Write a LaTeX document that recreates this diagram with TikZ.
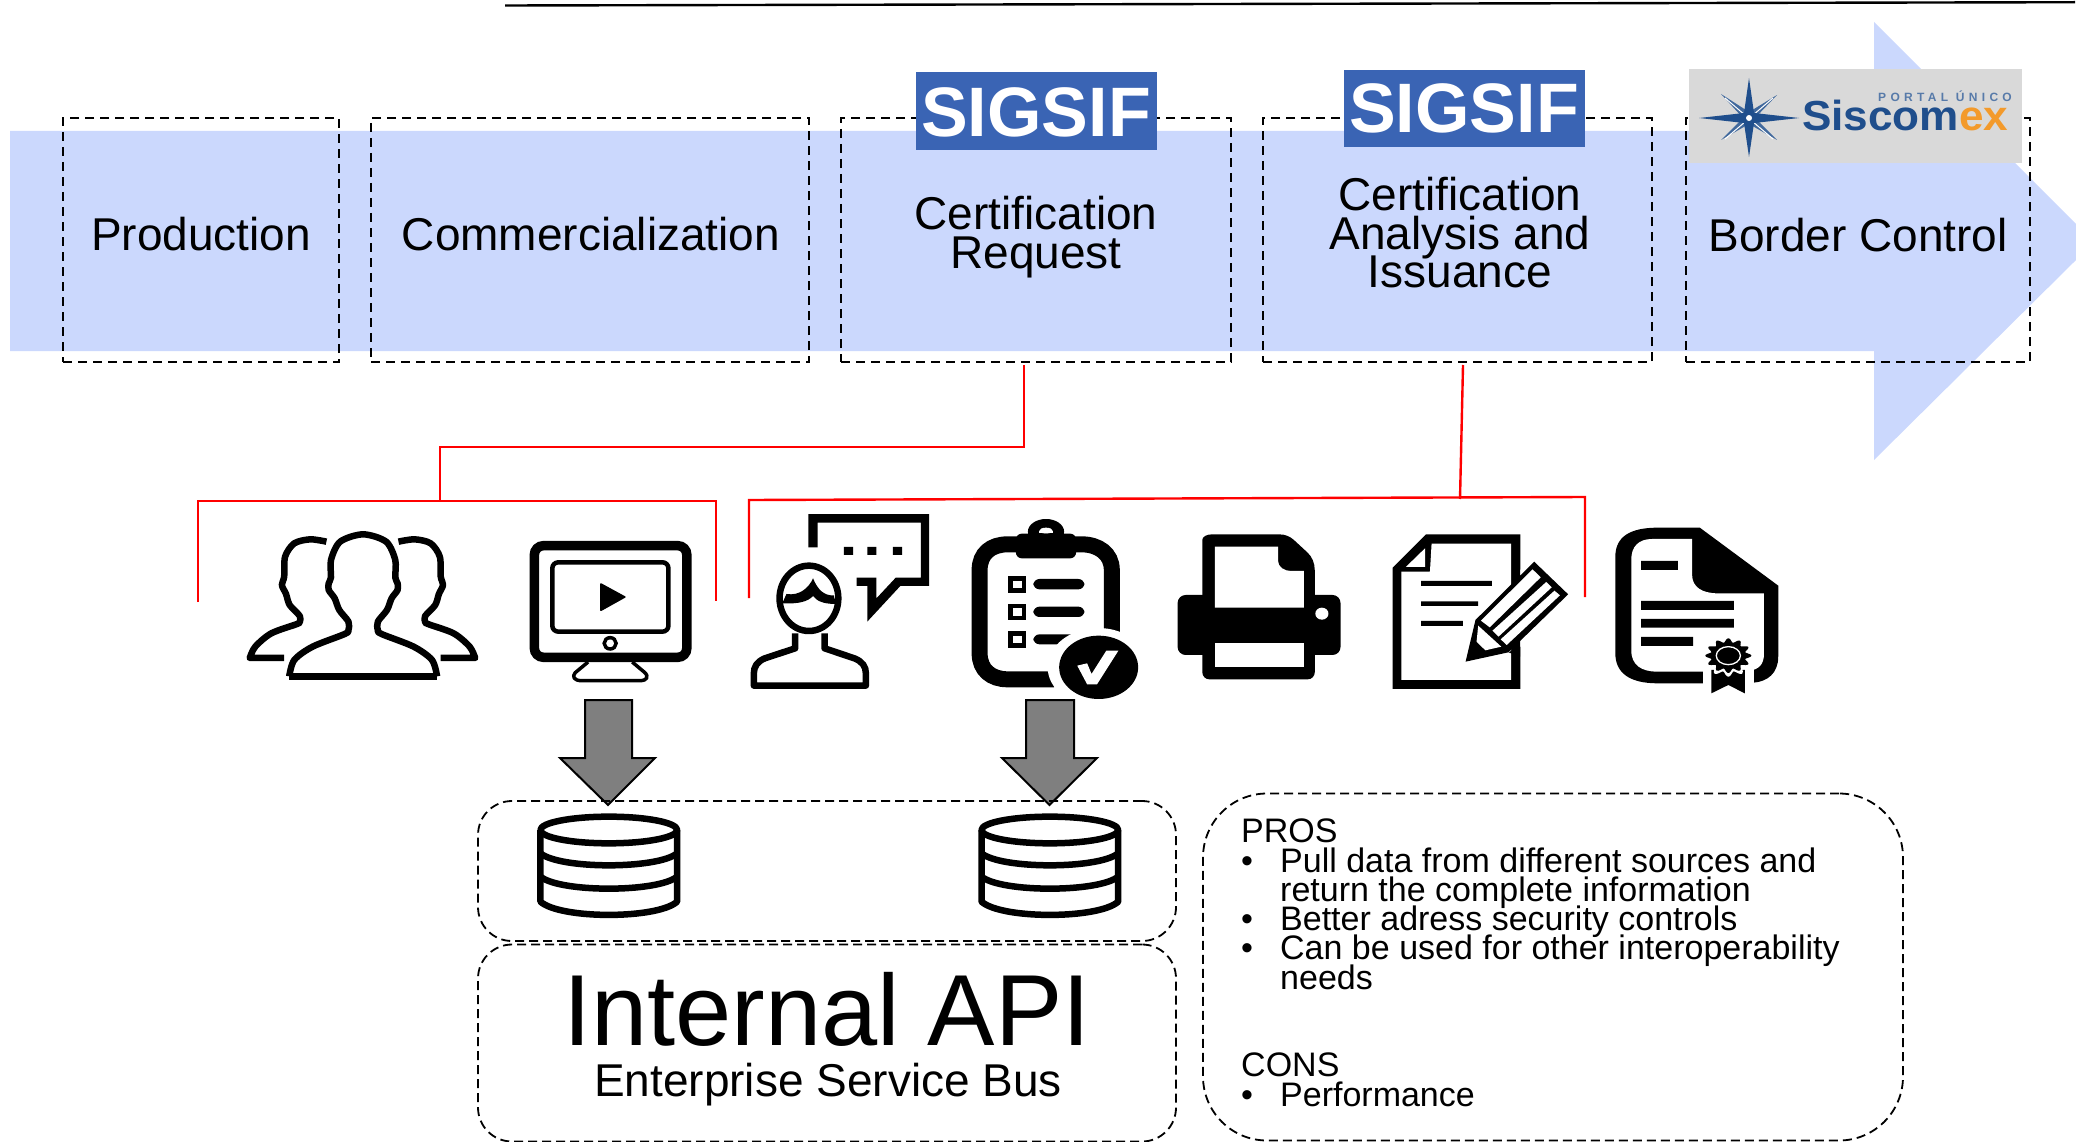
\documentclass[tikz,border=0pt]{standalone}
\usepackage{fontspec}
\usepackage{graphicx}
\setmainfont{Liberation Sans}
\lineskiplimit=-1000pt
\lineskip=0pt
\definecolor{flow}{HTML}{CBD8FD}
\definecolor{sigblue}{HTML}{3A64B4}
\definecolor{logogray}{HTML}{D9D9D9}
\definecolor{logoblue}{HTML}{1F4E8C}
\definecolor{logoorange}{HTML}{F39A2B}
\definecolor{arrowgray}{HTML}{7F7F7F}
\tikzset{
  dashbox/.style={draw=black,line width=2pt,dash pattern=on 9pt off 6pt,inner sep=0pt,rectangle},
  roundbox/.style={draw=black,line width=1.8pt,dash pattern=on 9pt off 5pt,inner sep=0pt,rectangle,fill=none},
  lbl/.style={font=\fontsize{46}{38.5}\selectfont,inner sep=0pt,anchor=base,align=center,text=black},
  sigbox/.style={text=white,font=\fontsize{70}{70}\selectfont\bfseries,inner sep=0pt,anchor=base},
  wire/.style={draw=red,line width=2.4pt,line join=miter},
  icon/.style={draw=black,line width=6.5pt,line join=round,fill=none},
  zoomA/.style={shift={(230,490)},xscale=0.4591,yscale=0.3333},
  zoomB/.style={shift={(950,490)},xscale=0.5485,yscale=0.3333},
  zoomC/.style={shift={(460,690)},xscale=0.4847,yscale=0.3333},
  downarrow/.style={fill=arrowgray,draw=black,line width=2pt,line join=miter},
}
\begin{document}
\begin{tikzpicture}[x=1pt,y=-1pt]
\useasboundingbox (0,0) rectangle (2076,1142);
% top rule
\coordinate (ruleL) at (505,5.5);
\coordinate (ruleR) at (2075,2.2);
\draw[black,line width=2.4pt] (ruleL) -- (ruleR);
% big flow arrow
\fill[flow] (10,131) -- (1874,131) -- (1874,22) -- (2076,224) -- (2076,260) -- (1874,460) -- (1874,351) -- (10,351) -- cycle;
% stage boxes
\node[dashbox,minimum width=276pt,minimum height=244pt] (prod) at (201,240) {};
\node[dashbox,minimum width=438pt,minimum height=244pt] (comm) at (590,240) {};
\node[dashbox,minimum width=390pt,minimum height=244pt] (creq) at (1036,240) {};
\node[dashbox,minimum width=389pt,minimum height=244pt] (cana) at (1457.5,240) {};
\node[dashbox,minimum width=344pt,minimum height=244pt] (bord) at (1858,240) {};
% labels
\node[lbl] (tprod) at (201,250) {Production};
\node[lbl] (tcomm) at (591,250) {Commercialization};
\node[lbl] (tcreq) at (1036,268) {Certification\\Request};
\node[lbl] (tcana) at (1460,287.5) {Certification\\Analysis and\\Issuance};
\node[lbl] (tbord) at (1858,251) {Border Control};
% SIGSIF
\fill[sigblue] (916,72) rectangle (1157,150);
\node[sigbox] (sig1) at (1036,137) {SIGSIF};
\fill[sigblue] (1344,70) rectangle (1585,147);
\node[sigbox] (sig2) at (1464,133) {SIGSIF};
% Siscomex logo
\fill[logogray] (1689,69) rectangle (2022,163);
\fill[logoblue!85] (1721,94) -- (1749,112) -- (1777,95) -- (1755,118) -- (1777,140) -- (1749,124) -- (1721,140) -- (1743,118) -- cycle;
\draw[white,line width=1pt] (1725,98) -- (1773,139) (1773,98) -- (1725,139);
\fill[logoblue] (1749,78) -- (1754,113) -- (1799,118) -- (1754,123) -- (1749,157) -- (1744,123) -- (1699,118) -- (1744,113) -- cycle;
\fill[white] (1749,118) circle (3pt);
\node[font=\fontsize{42}{42}\selectfont\bfseries,inner sep=0pt,anchor=base west] (siscomex) at (1802,131)
  {\scalebox{1.05}[1]{\textcolor{logoblue}{Siscom}\textcolor{logoorange}{ex}}};
\node[font=\fontsize{12}{12}\selectfont\bfseries,inner sep=0pt,anchor=base east,text=logoblue!75] (portal) at (2012,102)
  {\addfontfeature{LetterSpace=36}PORTAL ÚNICO};
% red connectors
\coordinate (ra0) at (1024,365);
\coordinate (ra1) at (1024,447);
\coordinate (ra2) at (440,447);
\coordinate (ra3) at (440,501);
\coordinate (ba) at (198,602);
\coordinate (bb) at (198,501);
\coordinate (bc) at (716,501);
\coordinate (bd) at (716,601);
\draw[wire] (ra0) -- (ra1) -- (ra2) -- (ra3);
\draw[wire] (ba) -- (bb) -- (bc) -- (bd);
\coordinate (rb0) at (1463,365);
\coordinate (rb1) at (1460,499);
\coordinate (ca) at (749,598);
\coordinate (cb) at (749,500);
\coordinate (cc) at (1585,497);
\coordinate (cd) at (1585,597);
\draw[wire] (rb0) -- (rb1);
\draw[wire] (ca) -- (cb) -- (cc) -- (cd);
% people icon
\begin{scope}[zoomA]
\draw[icon] plot[smooth,tension=.5] coordinates {(210,155) (175,148) (140,160) (120,200) (118,260) (113,285) (122,312) (130,345) (152,378) (152,395) (146,402) (90,430) (55,470) (43,504)} -- (118,504);
\draw[icon] plot[smooth,tension=.5] coordinates {(367,155) (402,148) (437,160) (457,200) (459,260) (464,285) (455,312) (447,345) (425,378) (425,395) (431,402) (487,430) (522,470) (534,504)} -- (459,504);
\draw[icon] (129,559) -- (451,559);
\draw[icon] plot[smooth,tension=.5] coordinates {(129,559) (140,510) (180,470) (250,432) (258,420) (258,395) (238,360) (228,325) (215,300) (215,280) (220,262) (220,210) (240,155) (290,133) (340,155) (360,210) (360,262) (365,280) (365,300) (352,325) (342,360) (322,395) (322,420) (330,432) (400,470) (440,510) (451,559)};
% monitor
\draw[black,line width=9.5pt,rounded corners=9pt,fill=white] (663,167) rectangle (995,502);
\draw[black,line width=4.5pt,rounded corners=6pt] (702,217) rectangle (955,425);
\fill[black,draw=black,line width=1.5pt,line join=round] (808,282) -- (860,321) -- (808,361) -- cycle;
\draw[black,line width=3.5pt] (828,460) ellipse [x radius=13,y radius=17];
\draw[black,line width=3.5pt,line join=round] (780,516) -- (752,548) .. controls (744,560) and (750,572) .. (765,572) -- (893,572) .. controls (908,572) and (914,560) .. (902,546) -- (876,516);
% person with speech bubble
\fill[black] (1260,72) -- (1523,72) -- (1523,288) -- (1460,288) -- (1388,395) -- (1388,288) -- (1365,288) -- (1365,263) -- (1408,263) -- (1408,325) -- (1450,263) -- (1505,263) -- (1505,98) -- (1280,98) -- (1280,172) -- (1260,172) -- cycle;
\fill[black] (1337,171) rectangle (1357,195) (1388,171) rectangle (1408,195) (1444,171) rectangle (1464,195);
\draw[icon] (1261,325) ellipse [x radius=64,y radius=98];
\fill[black] (1212,312) .. controls (1240,318) and (1260,295) .. (1270,265) .. controls (1280,300) and (1295,318) .. (1315,316) -- (1320,342) .. controls (1290,342) and (1278,332) .. (1270,318) .. controls (1258,335) and (1240,342) .. (1203,340) -- cycle;
\draw[icon] (1231,430) -- (1231,475) -- (1165,505) .. controls (1148,515) and (1141,530) .. (1141,550) -- (1141,587) -- (1385,587) -- (1385,550) .. controls (1385,530) and (1378,515) .. (1360,505) -- (1295,475) -- (1295,430);
\end{scope}
% clipboard
\begin{scope}[zoomB]
\draw[black,line width=16pt,line cap=butt] (295,430) -- (295,240) .. controls (295,190) and (270,163) .. (240,163) -- (105,163) .. controls (75,163) and (54,190) .. (54,240) -- (54,490) .. controls (54,540) and (75,568) .. (105,568) -- (190,568);
\fill[black] (175,125) ellipse [x radius=33,y radius=38];
\fill[white] (175,122) ellipse [x radius=12,y radius=9];
\fill[black,rounded corners=6pt] (120,131) rectangle (230,205);
\fill[white] (163,122) rectangle (187,130);
\foreach \yy in {258,341,423}{
  \draw[black,line width=4.5pt] (110,\yy+7) rectangle (135,\yy+43);
}
\fill[black,rounded corners=6pt] (152,267) rectangle (245,298);
\fill[black,rounded corners=6pt] (152,350) rectangle (245,381);
\fill[black,rounded corners=6pt] (152,433) rectangle (232,463);
\fill[white] (270,532) ellipse [x radius=92,y radius=118];
\fill[black] (271,532) ellipse [x radius=72,y radius=95];
\fill[white] (232,527) -- (250,520) -- (258,552) -- (285,482) -- (307,482) -- (268,583) -- (250,583) -- cycle;
% printer
\fill[black,rounded corners=8pt] (415,315) rectangle (712,495);
\fill[black,rounded corners=7pt] (460,458) rectangle (665,568);
\fill[black] (460,320) -- (460,150) .. controls (460,140) and (468,133) .. (478,133) -- (600,133) .. controls (612,133) and (620,140) .. (627,150) -- (652,188) .. controls (660,200) and (665,220) .. (665,240) -- (665,320) -- cycle;
\fill[white] (483,170) -- (598,170) -- (598,212) .. controls (598,232) and (610,243) .. (622,243) -- (645,243) -- (645,353) -- (483,353) -- cycle;
\fill[white] (483,458) rectangle (645,531);
\fill[white] (678,371) ellipse [x radius=12,y radius=18];
% document with pencil
\fill[black] (868,133) -- (1040,133) -- (1040,597) -- (807,597) -- (807,233) -- cycle;
\fill[white] (878,161) -- (1023,161) -- (1023,570) -- (823,570) -- (823,245) -- (875,245) -- cycle;
\fill[white] (866,175) -- (866,231) -- (831,231) -- cycle;
\fill[black] (859,273) rectangle (988,288) (859,334) rectangle (963,348) (859,393) rectangle (935,408);
\fill[white] (1040,240) -- (1060,195) -- (1145,313) -- (1040,500) -- cycle;
\fill[black] (1065,215) -- (1127,313) -- (1018,487) -- (940,515) -- (958,390) -- cycle;
\fill[white] (1062,238) -- (1077,262) -- (984,412) -- (968,392) -- cycle;
\fill[white] (1087,276) -- (1097,292) -- (1000,440) -- (989,422) -- cycle;
\fill[white] (1102,302) -- (1112,316) -- (1015,465) -- (1004,448) -- cycle;
\fill[white] (963,407) -- (1005,470) -- (976,481) -- (960,455) -- cycle;
\fill[black] (1040,500) -- (1040,470) -- (1018,487) -- cycle;
% certificate
\fill[black] (1380,580) -- (1290,580) .. controls (1240,580) and (1213,550) .. (1213,490) -- (1213,200) .. controls (1213,140) and (1240,113) .. (1290,113) -- (1367,113) -- (1510,287) -- (1510,500) .. controls (1510,550) and (1490,575) .. (1465,578) -- cycle;
\fill[white] (1280,147) -- (1353,147) -- (1353,255) .. controls (1353,290) and (1370,310) .. (1400,310) -- (1484,310) -- (1484,490) .. controls (1484,525) and (1475,545) .. (1440,545) -- (1290,545) .. controls (1260,545) and (1242,525) .. (1242,480) -- (1242,210) .. controls (1242,170) and (1255,147) .. (1280,147) -- cycle;
\fill[black] (1260,213) rectangle (1327,240) (1260,333) rectangle (1429,360) (1260,387) rectangle (1429,413) (1260,441) rectangle (1355,468);
\fill[white] (1373,535) rectangle (1465,590);
\fill[black] (1388,540) -- (1449,540) -- (1449,610) -- (1419,585) -- (1388,610) -- cycle;
\fill[white] plot[domain=0:360,samples=121,smooth] ({1419+(43+6*cos(12*\x))*cos(\x)},{497+(56+7*cos(12*\x))*sin(\x)}) -- cycle;
\fill[black] plot[domain=0:360,samples=121,smooth] ({1419+(37+5*cos(12*\x))*cos(\x)},{497+(46+6*cos(12*\x))*sin(\x)}) -- cycle;
\draw[white,line width=1.3pt] (1419,497) ellipse [x radius=22,y radius=27];
\end{scope}
% down arrows
\draw[downarrow] (585,700) -- (632,700) -- (632,758) -- (655,758) -- (608,805) -- (560,758) -- (585,758) -- cycle;
\draw[downarrow] (1026,700) -- (1074,700) -- (1074,758) -- (1097,758) -- (1049.5,805) -- (1002,758) -- (1026,758) -- cycle;
% round dashed boxes
\node[roundbox,rounded corners=34pt,minimum width=698pt,minimum height=140pt] (dbbox) at (827,871) {};
\node[roundbox,rounded corners=34pt,minimum width=698pt,minimum height=197pt] (apibox) at (827,1043) {};
\node[roundbox,rounded corners=64pt,minimum width=700pt,minimum height=347pt] (prosbox) at (1553,967) {};
% databases
\begin{scope}[zoomC]
\foreach \xx in {307,1217}{
\draw[icon] (\xx,420) ellipse [x radius=141,y radius=40];
\draw[icon] (\xx-141,420) -- (\xx-141,635) .. controls (\xx-100,688) and (\xx+100,688) .. (\xx+141,635) -- (\xx+141,420);
\draw[icon] (\xx-141,490) .. controls (\xx-100,538) and (\xx+100,538) .. (\xx+141,490);
\draw[icon] (\xx-141,560) .. controls (\xx-100,608) and (\xx+100,608) .. (\xx+141,560);
}
\end{scope}
% API text
\node[inner sep=0pt,anchor=base,font=\fontsize{101}{101}\selectfont] (api) at (827,1045) {Internal API};
\node[inner sep=0pt,anchor=base,font=\fontsize{46}{46}\selectfont] (esb) at (828,1096) {Enterprise Service Bus};
% pros / cons
\node[inner sep=0pt,anchor=base west,align=left,font=\fontsize{34}{29.25}\selectfont] (pros) at (1241,1106) {PROS\\
\makebox[39pt][l]{\textbullet}Pull data from different sources and\\
\hspace*{39pt}return the complete information\\
\makebox[39pt][l]{\textbullet}Better adress security controls\\
\makebox[39pt][l]{\textbullet}Can be used for other interoperability\\
\hspace*{39pt}needs\\
~\\
~\\
CONS\\
\makebox[39pt][l]{\textbullet}Performance};
\end{tikzpicture}
\end{document}
